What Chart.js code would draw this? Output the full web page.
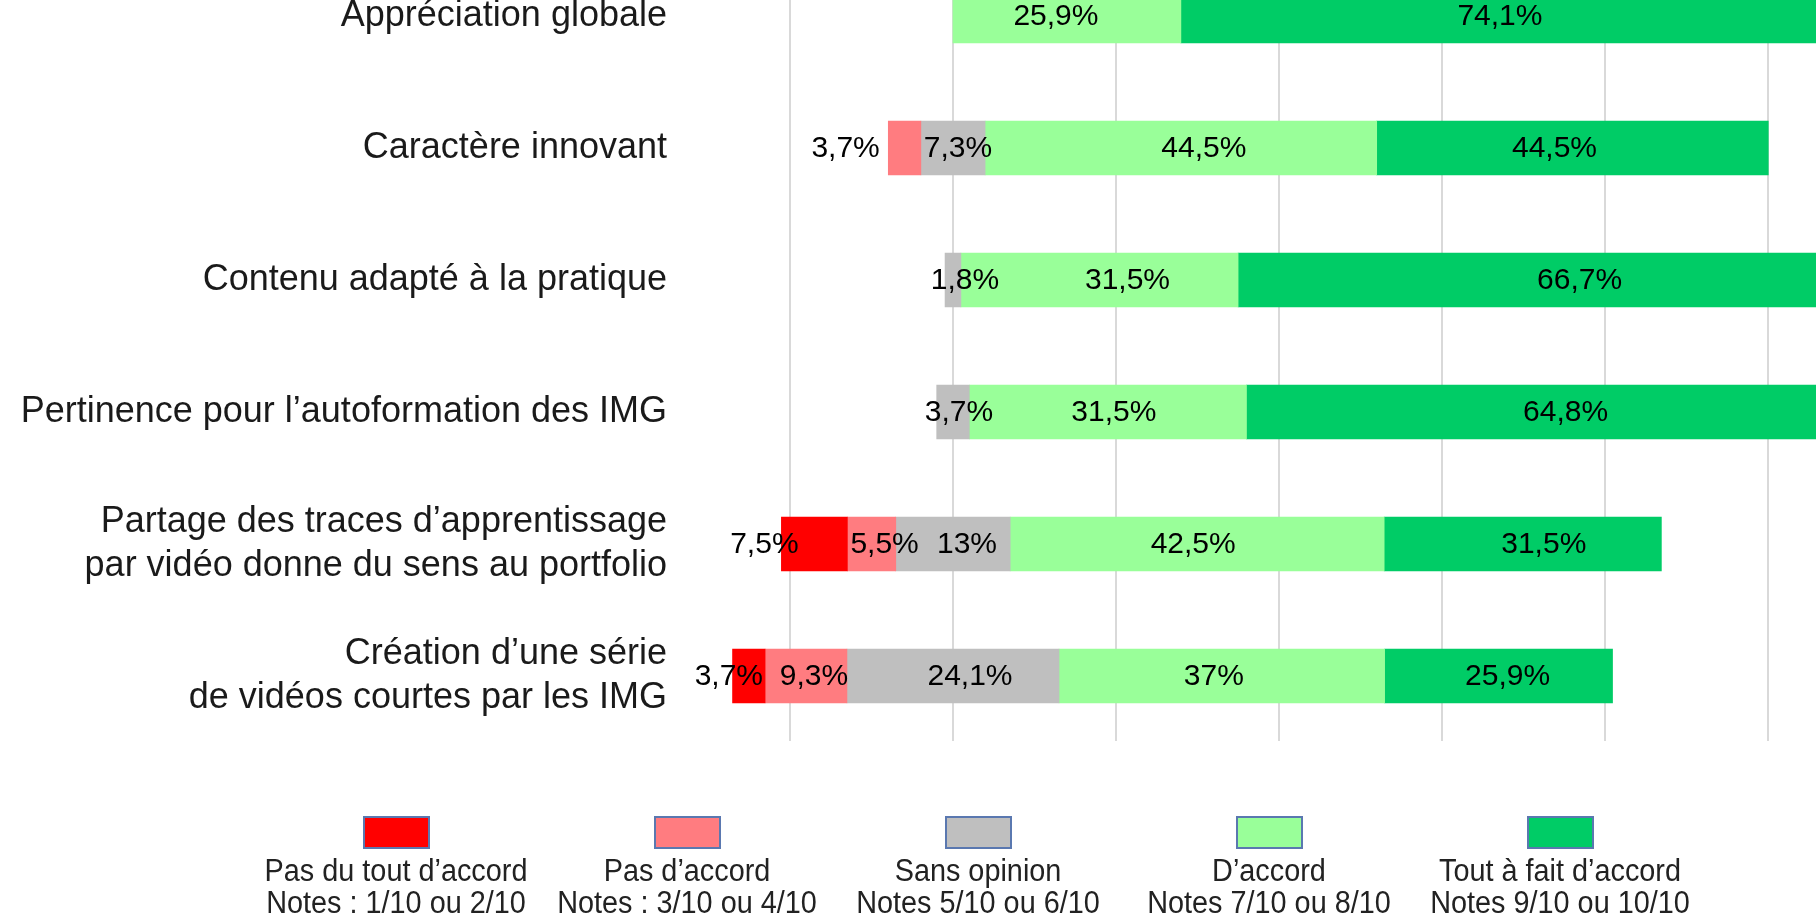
<!DOCTYPE html>
<html lang="fr">
<head>
<meta charset="utf-8">
<title>Évaluation des vidéos</title>
<script src="https://cdn.jsdelivr.net/npm/chart.js@4.4.1/dist/chart.umd.min.js"></script>
<style>
    html, body { margin: 0; padding: 0; background: #fff; }
    #wrap { position: relative; width: 1816px; height: 918px; overflow: hidden; }
    #legend { position: absolute; left: 0; top: 0; width: 1816px; height: 918px; font-family: "Liberation Sans", Arial, sans-serif; color: #222; }
    .item { position: absolute; top: 816px; width: 320px; text-align: center; }
    .swatch { width: 63px; height: 29px; margin: 0 auto; border: 2px solid #5a78b0; }
    .text { margin-top: 6px; font-size: 31px; line-height: 32px; white-space: nowrap; transform: scaleX(0.93); }
</style>
</head>
<body>
<div id="wrap">
    <canvas id="chart" width="1816" height="918"></canvas>
    <div id="legend"></div>
</div>
<script>
const categories = [
    'Appréciation globale',
    'Caractère innovant',
    'Contenu adapté à la pratique',
    'Pertinence pour l’autoformation des IMG',
    ['Partage des traces d’apprentissage', 'par vidéo donne du sens au portfolio'],
    ['Création d’une série', 'de vidéos courtes par les IMG']
];

const seriesNames = ['Pas du tout d’accord', 'Pas d’accord', 'Sans opinion', 'D’accord', 'Tout à fait d’accord'];
const seriesNotes = ['Notes : 1/10 ou 2/10', 'Notes : 3/10 ou 4/10', 'Notes 5/10 ou 6/10', 'Notes 7/10 ou 8/10', 'Notes 9/10 ou 10/10'];
const seriesColors = ['#ff0000', '#ff7c80', '#bfbfbf', '#99ff99', '#00cc66'];

// percentages per category (same order as categories)
const pasDuTout = [0, 0, 0, 0, 7.5, 3.7];
const pasDaccord = [0, 3.7, 0, 0, 5.5, 9.3];
const sansOpinion = [0, 7.3, 1.8, 3.7, 13, 24.1];
const daccord = [25.9, 44.5, 31.5, 31.5, 42.5, 37];
const toutAFait = [74.1, 44.5, 66.7, 64.8, 31.5, 25.9];

const series = [pasDuTout, pasDaccord, sansOpinion, daccord, toutAFait];

// 54 répondants, une ligne verticale tous les 10 répondants
const respondents = 54;
const gridEvery = 10;

// Bars are centred on the middle of "Sans opinion"
function buildRanges() {
    return series.map((values, s) => values.map((v, row) => {
        if (!v) return null;
        let start = -(pasDuTout[row] + pasDaccord[row] + sansOpinion[row] / 2);
        for (let k = 0; k < s; k++) start += series[k][row];
        return [start, start + v];
    }));
}

// small horizontal shifts of the value labels, as placed in the original
const labelNudge = [
    [0, 0, 0, -11, -7],
    [0, -59, 5, 23, -18],
    [0, 0, 12, 28, 48],
    [0, 0, 6, 6, 34],
    [-50, 13, 14, -4, 21],
    [-20, 8, 17, -8, 9]
];

const FONT = '"Liberation Sans", Arial, sans-serif';

// vertical lines, drawn over the whole height of the plot
const gridLines = {
    id: 'gridLines',
    beforeDatasetsDraw(chart) {
        const { ctx, scales: { x } } = chart;
        const step = gridEvery / respondents * 100;
        ctx.save();
        ctx.strokeStyle = '#d9d9d9';
        ctx.lineWidth = 2;
        for (let k = Math.ceil(x.min / step); k * step <= x.max; k++) {
            const px = Math.round(x.getPixelForValue(k * step));
            ctx.beginPath();
            ctx.moveTo(px, 0);
            ctx.lineTo(px, 741);
            ctx.stroke();
        }
        ctx.restore();
    }
};

// percentage text inside the bars
const valueLabels = {
    id: 'valueLabels',
    afterDatasetsDraw(chart) {
        const ctx = chart.ctx;
        ctx.save();
        ctx.font = '30px ' + FONT;
        ctx.fillStyle = '#000';
        ctx.textAlign = 'center';
        ctx.textBaseline = 'middle';
        chart.data.datasets.forEach((ds, s) => {
            chart.getDatasetMeta(s).data.forEach((bar, row) => {
                const v = series[s][row];
                if (!v) return;
                const { x, base, y } = bar.getProps(['x', 'base', 'y'], true);
                const cx = (x + base) / 2 + labelNudge[row][s];
                ctx.fillText(String(v).replace('.', ',') + '%', cx, y + 1);
            });
        });
        ctx.restore();
    }
};

const ranges = buildRanges();

const datasets = seriesNames.map((name, s) => ({
    label: name,
    data: ranges[s],
    backgroundColor: seriesColors[s],
    borderWidth: 0,
    grouped: false,
    clip: false,
    barThickness: 54
}));

new Chart(document.getElementById('chart').getContext('2d'), {
    type: 'bar',
    data: { labels: categories, datasets: datasets },
    options: {
        indexAxis: 'y',
        responsive: false,
        animation: false,
        layout: { padding: { top: 16, bottom: 242, left: 0, right: 0 } },
        plugins: { legend: { display: false }, tooltip: { enabled: false } },
        scales: {
            x: { type: 'linear', min: -31.02, max: 98.07, display: false },
            y: {
                offset: false,
                grid: { display: false },
                border: { display: false },
                ticks: {
                    autoSkip: false,
                    color: '#1a1a1a',
                    padding: 5,
                    font: { family: FONT, size: 36, lineHeight: 1.22 }
                },
                afterFit(scale) {
                    scale.width = 680;
                    scale.paddingTop = 0;
                    scale.paddingBottom = 0;
                }
            }
        }
    },
    plugins: [gridLines, valueLabels]
});

// Legend below the chart: box on top, two lines of text
function buildLegend() {
    const legend = document.getElementById('legend');
    seriesNames.forEach((name, s) => {
        const item = document.createElement('div');
        item.className = 'item';
        item.style.left = (396 + s * 291 - 160) + 'px';

        const swatch = document.createElement('div');
        swatch.className = 'swatch';
        swatch.style.background = seriesColors[s];
        item.appendChild(swatch);

        const text = document.createElement('div');
        text.className = 'text';
        text.innerHTML = name + '<br>' + seriesNotes[s];
        item.appendChild(text);

        legend.appendChild(item);
    });
}

buildLegend();
</script>
</body>
</html>
